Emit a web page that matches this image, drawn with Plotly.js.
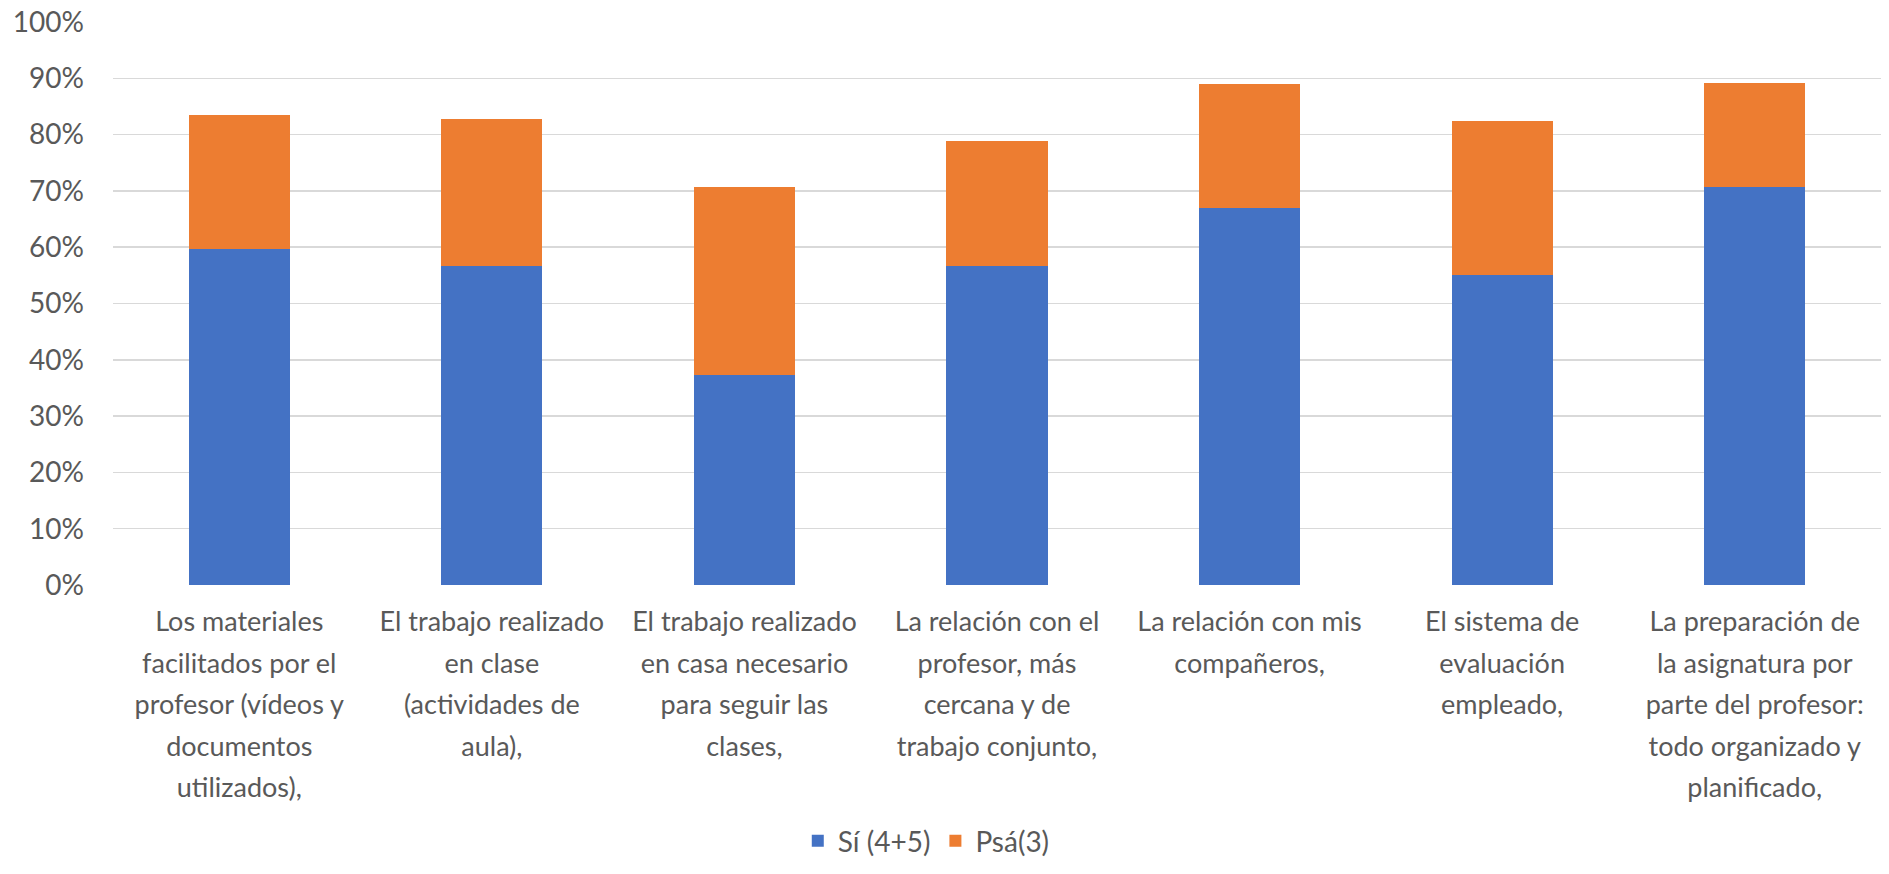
<!DOCTYPE html>
<html>
<head>
<meta charset="utf-8">
<script src="https://cdn.plot.ly/plotly-3.0.1.min.js"></script>
<style>html,body{margin:0;padding:0;background:#fff;}#chart{width:1889px;height:874px;}</style>
</head>
<body>
<div id="chart"></div>
<script>
const categories = [
  "Los materiales<br>facilitados por el<br>profesor (vídeos y<br>documentos<br>utilizados),",
  "El trabajo realizado<br>en clase<br>(actividades de<br>aula),",
  "El trabajo realizado<br>en casa necesario<br>para seguir las<br>clases,",
  "La relación con el<br>profesor, más<br>cercana y de<br>trabajo conjunto,",
  "La relación con mis<br>compañeros,",
  "El sistema de<br>evaluación<br>empleado,",
  "La preparación de<br>la asignatura por<br>parte del profesor:<br>todo organizado y<br>planificado,"
];
const siValues  = [59.7, 56.7, 37.3, 56.6, 67.0, 55.0, 70.7];
const psaValues = [23.8, 26.0, 33.4, 22.3, 22.0, 27.5, 18.4];
const seriesNames = ["Sí (4+5)", "Psá(3)"];
const yTickVals = [0, 10, 20, 30, 40, 50, 60, 70, 80, 90, 100];
const yTickLabels = ["0%", "10%", "20%", "30%", "40%", "50%", "60%", "70%", "80%", "90%", "100%"];

const FONT = "Lato, 'Open Sans', sans-serif";
const TXT = "#595959";

// category tick text shown in a slightly smaller span so the line spacing matches
const xTickText = categories.map(c => '<span style="font-size:27px">' + c + '</span>');

const data = [
  {type: "bar", name: seriesNames[0], x: categories, y: siValues,
   marker: {color: "#4472C4", line: {width: 0}}, hoverinfo: "y"},
  {type: "bar", name: seriesNames[1], x: categories, y: psaValues,
   marker: {color: "#ED7D31", line: {width: 0}}, hoverinfo: "y"}
];

const layout = {
  width: 1889, height: 874,
  barmode: "stack",
  bargap: 0.6,
  paper_bgcolor: "#ffffff",
  plot_bgcolor: "#ffffff",
  margin: {l: 113, r: 8, t: 22, b: 276},
  font: {family: FONT, color: TXT, size: 28},
  xaxis: {
    type: "category",
    tickmode: "array",
    tickvals: categories,
    ticktext: xTickText,
    showgrid: false, showline: false, zeroline: false,
    ticks: "", tickfont: {family: FONT, color: TXT, size: 32},
    ticklabelstandoff: 13,
    tickangle: 0
  },
  yaxis: {
    range: [0, 100],
    tickmode: "array",
    tickvals: yTickVals,
    ticktext: yTickLabels,
    showgrid: true, gridcolor: "#d9d9d9", gridwidth: 1.5,
    zeroline: false, showline: false, ticks: "",
    ticklabelstandoff: 28,
    tickfont: {family: FONT, color: TXT, size: 28}
  },
  showlegend: true,
  legend: {
    orientation: "h",
    x: 0.46, xanchor: "center",
    y: -0.455, yanchor: "middle",
    font: {family: FONT, color: TXT, size: 28},
    traceorder: "normal"
  }
};

Plotly.newPlot("chart", data, layout, {displayModeBar: false, staticPlot: true});
</script>
</body>
</html>
